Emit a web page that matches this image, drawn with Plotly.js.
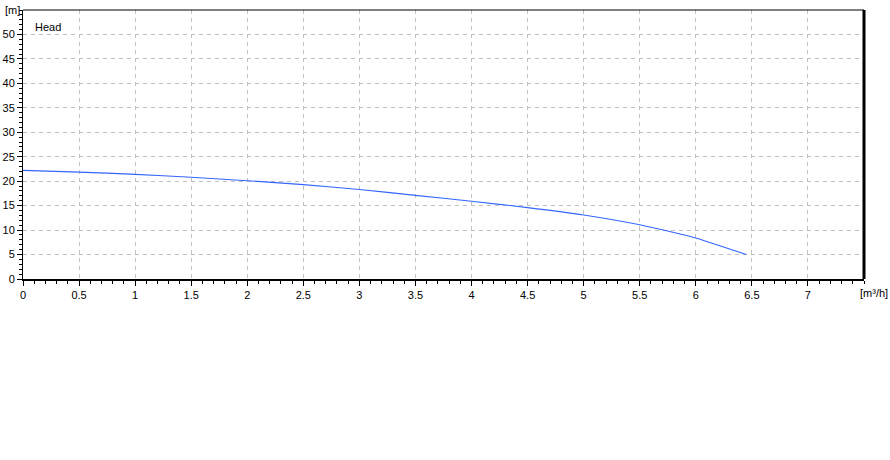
<!DOCTYPE html>
<html>
<head>
<meta charset="utf-8">
<script src="https://cdn.plot.ly/plotly-3.0.1.min.js"></script>
<style>html,body{margin:0;padding:0;background:#fff;}#chart{width:890px;height:460px;}</style>
</head>
<body>
<div id="chart"></div>
<script>
// Flow [m³/h]
var flow = [0, 0.5, 1, 1.5, 2, 2.5, 3, 3.5, 4, 4.5, 5, 5.5, 5.75, 6, 6.2, 6.45];
// Head [m]
var head = [22.2, 21.85, 21.4, 20.8, 20.1, 19.3, 18.3, 17.1, 15.9, 14.6, 13.1, 11.1, 9.8, 8.4, 6.9, 5.0];
var xTicks = [0, 0.5, 1, 1.5, 2, 2.5, 3, 3.5, 4, 4.5, 5, 5.5, 6, 6.5, 7];
var xTickText = ["0", "0.5", "1", "1.5", "2", "2.5", "3", "3.5", "4", "4.5", "5", "5.5", "6", "6.5", "7"];
var yTicks = [0, 5, 10, 15, 20, 25, 30, 35, 40, 45, 50];
var yTickText = ["0", "5", "10", "15", "20", "25", "30", "35", "40", "45", "50"];
var seriesName = "Head";
var xUnit = "[m³/h]";
var yUnit = "[m]";

var font = {family: "Liberation Sans, Arial, sans-serif", size: 11, color: "#000"};

var trace = {
  x: flow, y: head, type: "scatter", mode: "lines", name: seriesName,
  line: {color: "#3366ff", width: 1.1, shape: "spline", smoothing: 0.8},
  hoverinfo: "skip"
};

var layout = {
  width: 890, height: 460,
  margin: {l: 23, r: 26, t: 10, b: 181, pad: 0},
  paper_bgcolor: "#fff", plot_bgcolor: "#fff",
  showlegend: false,
  font: font,
  xaxis: {
    range: [0, 7.5], tickvals: xTicks, ticktext: xTickText,
    showgrid: true, gridcolor: "#c0c0c0", griddash: "4px,4px", gridwidth: 1,
    zeroline: false, showline: true, linecolor: "#000", linewidth: 2,
    ticks: "outside", ticklen: 5, tickcolor: "#000", tickwidth: 1,
    minor: {dtick: 0.1, tick0: 0, ticks: "outside", ticklen: 3, tickcolor: "#000", showgrid: false},
    tickfont: font, fixedrange: true
  },
  yaxis: {
    range: [0, 55], tickvals: yTicks, ticktext: yTickText,
    showgrid: true, gridcolor: "#c0c0c0", griddash: "4px,4px", gridwidth: 1,
    zeroline: false, showline: true, linecolor: "#000", linewidth: 1,
    ticks: "outside", ticklen: 5, tickcolor: "#000", tickwidth: 1,
    minor: {dtick: 1, tick0: 0, ticks: "outside", ticklen: 3, tickcolor: "#000", showgrid: false},
    tickfont: font, fixedrange: true
  },
  shapes: [
    {type: "line", xref: "paper", yref: "paper", x0: 0, x1: 1, y0: 1, y1: 1, line: {color: "#000", width: 1}},
    {type: "line", xref: "paper", yref: "paper", x0: 1, x1: 1, y0: 0, y1: 1, line: {color: "#000", width: 3}}
  ],
  annotations: [
    {text: seriesName, xref: "paper", yref: "paper", x: 0.012, y: 0.935, xanchor: "left", yanchor: "middle", showarrow: false, font: font},
    {text: yUnit, xref: "paper", yref: "paper", x: -0.024, y: 1.0, xanchor: "left", yanchor: "middle", showarrow: false, font: font},
    {text: xUnit, xref: "paper", yref: "paper", x: 0.993, y: 0, xanchor: "left", yanchor: "top", yshift: -6, showarrow: false, font: font}
  ]
};

Plotly.newPlot("chart", [trace], layout, {displayModeBar: false, staticPlot: true});
</script>
</body>
</html>
